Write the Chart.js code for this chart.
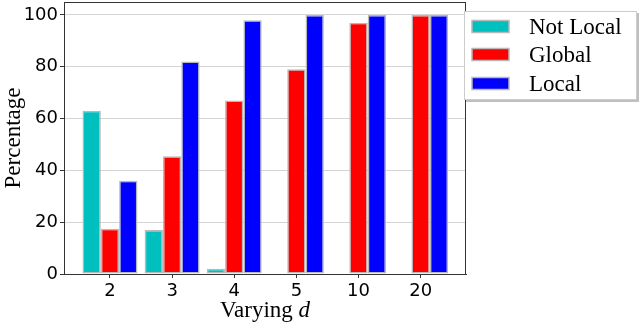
<!DOCTYPE html>
<html>
<head>
<meta charset="utf-8">
<script src="https://cdn.jsdelivr.net/npm/chart.js@4/dist/chart.umd.min.js"></script>
<style>
body { margin: 0; background: #fff; }
</style>
</head>
<body>
<canvas id="chart" width="640" height="326"></canvas>
<script>
// data
const categories = ["2", "3", "4", "5", "10", "20"];
const notLocalVals = [63, 17, 2, 0, 0, 0];
const globalVals = [17.5, 45.5, 67, 79, 97, 100];
const localVals = [36, 82, 98, 100, 100, 100];
const yTicks = [0, 20, 40, 60, 80, 100];

const seriesNames = ["Not Local", "Global", "Local"];
const seriesColors = ["#00bfbf", "#ff0000", "#0000ff"];

const toPoints = vals => vals.map((v, i) => ({ x: i, y: v }));

const tickFont = { family: "DejaVu Sans", size: 18 };
const serif = "Liberation Serif";

// frame + x title (italic d) + boxed legend
const extras = {
    id: "extras",
    afterDraw(chart) {
        const ctx = chart.ctx;
        const a = chart.chartArea;
        ctx.save();
        ctx.strokeStyle = "#333";
        ctx.lineWidth = 1;
        ctx.strokeRect(a.left + 0.5, a.top + 0.5, a.right - a.left - 1, a.bottom - a.top);

        // x axis title
        ctx.fillStyle = "#000";
        ctx.textBaseline = "alphabetic";
        ctx.font = "23px '" + serif + "'";
        const w1 = ctx.measureText("Varying ").width;
        ctx.font = "italic 23px '" + serif + "'";
        const w2 = ctx.measureText("d").width;
        const cx = (a.left + a.right) / 2;
        const x0 = cx - (w1 + w2) / 2;
        ctx.font = "23px '" + serif + "'";
        ctx.fillText("Varying ", x0, 317);
        ctx.font = "italic 23px '" + serif + "'";
        ctx.fillText("d", x0 + w1, 317);

        // legend box
        const bx = 464, by = 11, bw = 173, bh = 89;
        ctx.fillStyle = "rgba(0,0,0,0.25)";
        ctx.fillRect(bx + 2, by + 2, bw, bh);
        ctx.fillStyle = "#fff";
        ctx.fillRect(bx, by, bw, bh);
        ctx.strokeStyle = "#cccccc";
        ctx.strokeRect(bx + 0.5, by + 0.5, bw - 1, bh - 1);
        const rows = [26.5, 54.5, 83.5];
        ctx.font = "23px '" + serif + "'";
        ctx.textBaseline = "middle";
        seriesNames.forEach((name, i) => {
            ctx.fillStyle = seriesColors[i];
            ctx.fillRect(472, rows[i] - 6, 37, 12);
            ctx.strokeStyle = "#b8b8b8";
            ctx.lineWidth = 1.5;
            ctx.strokeRect(472, rows[i] - 6, 37, 12);
            ctx.fillStyle = "#000";
            ctx.fillText(name, 529, rows[i] + 1);
        });
        ctx.restore();
    }
};

const noPad = scale => {
    scale.paddingTop = 0;
    scale.paddingBottom = 0;
    scale.paddingLeft = 0;
    scale.paddingRight = 0;
};

const ctx = document.getElementById("chart").getContext("2d");
new Chart(ctx, {
    type: "bar",
    data: {
        datasets: [notLocalVals, globalVals, localVals].map((vals, i) => ({
            label: seriesNames[i],
            data: toPoints(vals),
            backgroundColor: seriesColors[i],
            borderColor: "#b8b8b8",
            borderWidth: 1.5,
            borderSkipped: false,
            categoryPercentage: 0.885,
            barPercentage: 1.0
        }))
    },
    options: {
        responsive: false,
        animation: false,
        layout: { padding: { top: 2, right: 174, left: 0, bottom: 0 } },
        plugins: {
            legend: { display: false },
            tooltip: { enabled: false }
        },
        scales: {
            x: {
                type: "linear",
                min: -0.74,
                max: 5.73,
                offset: false,
                afterBuildTicks: scale => {
                    scale.ticks = categories.map((c, i) => ({ value: i }));
                },
                afterFit: scale => { scale.height = 52; noPad(scale); },
                ticks: {
                    callback: v => categories[v],
                    font: tickFont,
                    color: "#000",
                    maxRotation: 0,
                    autoSkip: false,
                    padding: 3
                },
                grid: {
                    offset: false,
                    drawOnChartArea: false,
                    tickLength: 4,
                    tickColor: "#333"
                },
                border: { color: "#333" }
            },
            y: {
                min: 0,
                max: 105,
                afterBuildTicks: scale => {
                    scale.ticks = yTicks.map(v => ({ value: v }));
                },
                afterFit: scale => { scale.width = 64; noPad(scale); },
                ticks: {
                    font: tickFont,
                    color: "#000",
                    padding: 2
                },
                grid: {
                    color: "#d4d4d4",
                    tickColor: "#333",
                    tickLength: 4
                },
                border: { color: "#333" },
                title: {
                    display: true,
                    text: "Percentage",
                    color: "#000",
                    font: { family: serif, size: 23 },
                    padding: 0
                }
            }
        }
    },
    plugins: [extras]
});
</script>
</body>
</html>
